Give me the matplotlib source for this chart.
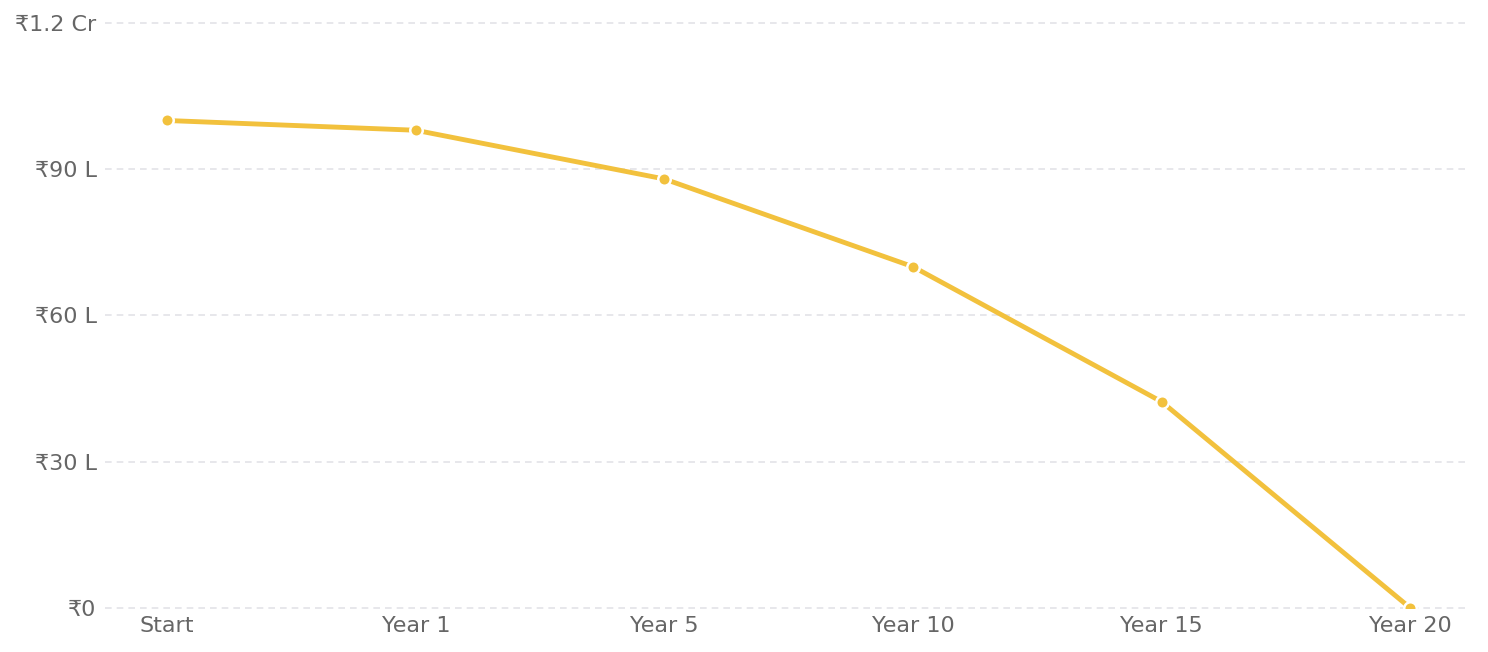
import matplotlib
matplotlib.use("Agg")
import matplotlib.pyplot as plt

# corpus balance in lakhs
labels = ["Start", "Year 1", "Year 5", "Year 10", "Year 15", "Year 20"]
balance_lakh = [100, 98, 88, 70, 42.3, 0]
ytick_vals = [0, 30, 60, 90, 120]
ytick_labels = ["₹0", "₹30 L", "₹60 L", "₹90 L", "₹1.2 Cr"]

plt.rcParams["font.family"] = ["DejaVu Sans"]

fig = plt.figure(figsize=(14.88, 6.52), dpi=100)
ax = fig.add_axes([105 / 1488, 1 - 608 / 652, (1470 - 105) / 1488, (608 - 23) / 652])

x = list(range(len(labels)))
ax.plot(x, balance_lakh, color="#F2C13D", lw=3.5, marker="o", ms=9,
        markerfacecolor="#F2C13D", markeredgecolor="white", markeredgewidth=1.8,
        solid_capstyle="round", zorder=3)

ax.set_xlim(-0.25, 5.24)
ax.set_ylim(0, 120)
ax.set_xticks(x)
ax.set_xticklabels(labels)
ax.set_yticks(ytick_vals)
ax.set_yticklabels(ytick_labels)
ax.tick_params(length=0, labelsize=16, labelcolor="#666666")
ax.tick_params(axis="y", pad=6)
ax.tick_params(axis="x", pad=6)

ax.grid(axis="y", color="#e3e3e8", linestyle=(0, (4, 3)), lw=1.2, clip_on=False)
ax.set_axisbelow(True)
for s in ax.spines.values():
    s.set_visible(False)

fig.savefig("out.png", dpi=100)
